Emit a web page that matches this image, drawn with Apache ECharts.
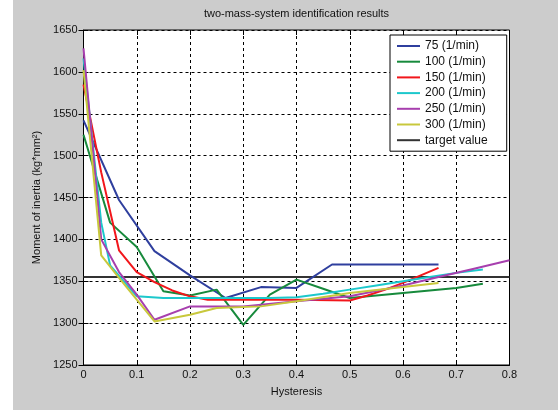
<!DOCTYPE html>
<html><head><meta charset="utf-8">
<script src="https://cdn.jsdelivr.net/npm/echarts@6/dist/echarts.min.js"></script>
<style>html,body{margin:0;padding:0;background:#fff;}#c{position:absolute;left:13px;top:0;width:545px;height:410px;}</style>
</head><body><div id="c"></div>
<script>
const xTicks = [0, 0.1, 0.2, 0.3, 0.4, 0.5, 0.6, 0.7, 0.8];
const yTicks = [1250, 1300, 1350, 1400, 1450, 1500, 1550, 1600, 1650];
const seriesNames = ['75 (1/min)', '100 (1/min)', '150 (1/min)', '200 (1/min)', '250 (1/min)', '300 (1/min)', 'target value'];

const x75 = [0, 0.0667, 0.1333, 0.2, 0.2667, 0.3333, 0.4, 0.4667, 0.5333, 0.6, 0.6667];
const y75 = [1542, 1447, 1386, 1357, 1330, 1343, 1342, 1370, 1370, 1370, 1370];

const x100 = [0, 0.05, 0.1, 0.15, 0.2, 0.25, 0.3, 0.35, 0.4, 0.45, 0.5, 0.55, 0.6, 0.65, 0.7, 0.75];
const y100 = [1525, 1420, 1391, 1338, 1333, 1340, 1298, 1334, 1352, 1341, 1330, 1333, 1336, 1339, 1342, 1347];

const x150 = [0, 0.0333, 0.0667, 0.1, 0.1333, 0.1667, 0.2, 0.2333, 0.3, 0.4, 0.5, 0.5333, 0.5667, 0.6, 0.6333, 0.6667];
const y150 = [1585, 1480, 1387, 1361, 1349, 1339, 1332, 1328, 1328, 1328, 1327, 1333, 1340, 1348, 1357, 1366];

const x200 = [0, 0.0333, 0.05, 0.1, 0.15, 0.2, 0.25, 0.3, 0.35, 0.4, 0.45, 0.5, 0.55, 0.6, 0.65, 0.7, 0.75];
const y200 = [1616, 1420, 1369, 1332, 1330, 1330, 1330, 1330, 1330, 1331, 1335, 1340, 1345, 1350, 1355, 1360, 1364];

const x250 = [0, 0.0333, 0.0667, 0.1, 0.1333, 0.2, 0.3, 0.4, 0.5, 0.6, 0.6667, 0.7333, 0.8];
const y250 = [1628, 1400, 1361, 1334, 1304, 1320, 1320, 1326, 1332, 1345, 1355, 1365, 1375];

const x300 = [0, 0.0333, 0.0667, 0.1, 0.1333, 0.2, 0.25, 0.3333, 0.4, 0.5, 0.6, 0.6667];
const y300 = [1602, 1381, 1354, 1328, 1302, 1310, 1318, 1320, 1326, 1336, 1343, 1348];

const xTarget = [0, 0.8];
const yTarget = [1355, 1355];

const colors = ['#2f3f9e', '#178a3c', '#f2161b', '#1cc8cc', '#a73fae', '#c8c83c', '#333333'];

const pairs = (xs, ys) => xs.map((x, i) => [x, ys[i]]);
const allX = [x75, x100, x150, x200, x250, x300, xTarget];
const allY = [y75, y100, y150, y200, y250, y300, yTarget];

const FONT = 'Liberation Sans, Arial, sans-serif';
const chart = echarts.init(document.getElementById('c'), null, {renderer: 'canvas'});

const tickStyle = {show: true, inside: true, length: 5, lineStyle: {color: '#000', width: 1}};
const splitStyle = {show: true, lineStyle: {color: '#000', type: [3, 3], width: 1}};

const option = {
  backgroundColor: '#cccccc',
  animation: false,
  textStyle: {fontFamily: FONT},
  graphic: [{
    type: 'text', x: 283.5, y: 8,
    style: {text: 'two-mass-system identification results', fill: '#111', font: '11px ' + FONT, textAlign: 'center'}
  }],
  grid: {left: 70.5, right: 48.5, top: 30, bottom: 45, show: true, backgroundColor: '#fff', borderColor: '#000', borderWidth: 1},
  legend: {
    left: 377, top: 35, orient: 'vertical',
    backgroundColor: '#fff', borderColor: '#000', borderWidth: 1,
    padding: [4, 19, 4, 7], itemGap: 1.7, itemWidth: 23, itemHeight: 2,
    icon: 'rect',
    textStyle: {fontSize: 12, color: '#111', fontFamily: FONT, lineHeight: 14},
    data: seriesNames
  },
  xAxis: [{
    type: 'value', min: xTicks[0], max: xTicks[xTicks.length - 1], interval: 0.1,
    name: 'Hysteresis', nameLocation: 'middle', nameGap: 21,
    nameTextStyle: {fontSize: 11, color: '#111', fontFamily: FONT},
    axisLine: {show: true, lineStyle: {color: '#000'}},
    axisTick: tickStyle, splitLine: splitStyle,
    axisLabel: {fontSize: 11, color: '#111', margin: 4, fontFamily: FONT,
      formatter: v => (Math.abs(v) < 1e-9 ? '0' : (+v).toFixed(1))}
  }, {
    type: 'value', position: 'top', min: 0, max: 0.8, interval: 0.1,
    axisLine: {show: false}, axisTick: tickStyle, axisLabel: {show: false}, splitLine: {show: false}
  }],
  yAxis: [{
    type: 'value', min: yTicks[0], max: yTicks[yTicks.length - 1], interval: 50,
    name: 'Moment of inertia (kg*mm²)', nameLocation: 'middle', nameGap: 33,
    nameTextStyle: {fontSize: 11, color: '#111', fontFamily: FONT},
    axisLine: {show: true, lineStyle: {color: '#000'}},
    axisTick: tickStyle, splitLine: splitStyle,
    axisLabel: {fontSize: 11, color: '#111', margin: 6, fontFamily: FONT,
      formatter: v => String(Math.round(v))}
  }, {
    type: 'value', position: 'right', min: 1250, max: 1650, interval: 50,
    axisLine: {show: false}, axisTick: tickStyle, axisLabel: {show: false}, splitLine: {show: false}
  }],
  series: seriesNames.map((n, i) => ({
    name: n, type: 'line', data: pairs(allX[i], allY[i]),
    showSymbol: false, symbol: 'none',
    lineStyle: {color: colors[i], width: 2},
    itemStyle: {color: colors[i]},
    z: i === 6 ? 1 : 2
  }))
};
chart.setOption(option);
</script></body></html>
